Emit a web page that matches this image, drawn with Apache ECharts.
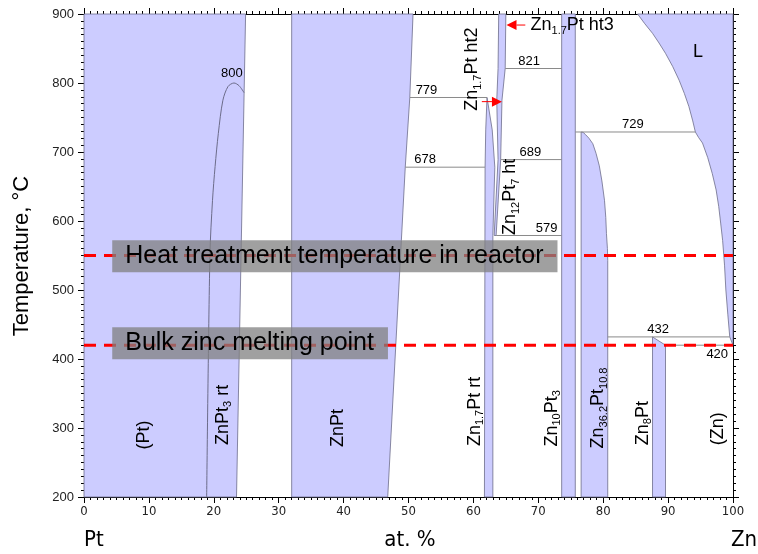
<!DOCTYPE html>
<html><head><meta charset="utf-8">
<script src="https://cdn.jsdelivr.net/npm/echarts@6/dist/echarts.min.js"></script>
<style>html,body{margin:0;padding:0;background:#fff;}#chart{width:758px;height:554px;}</style>
</head><body><div id="chart"></div>
<script>
// ---------------- data ----------------
const xTickValues = [0, 10, 20, 30, 40, 50, 60, 70, 80, 90, 100];
const yTickValues = [200, 300, 400, 500, 600, 700, 800, 900];

// single-phase fields: [at.% Zn, T in °C]
const fieldPt = [[0,200],[23.5,200],[24.2,550],[24.9,900],[0,900]];
const fieldZnPt = [[32,200],[46.8,200],[48.9,572],[49.5,678],[50.2,779],[50.7,900],[32,900]];
const fieldZn17PtLow = [[61.7,200],[63.0,200],[63.0,579],[63.3,678],[62.9,732],[62.1,779],[61.9,732],[61.8,678]];
const fieldZn17PtHigh = [[63.2,579],[63.5,579],[64.2,689],[64.4,775],[64.9,821],[65.0,900],[63.9,900],[63.8,821],[63.6,775],[63.8,689]];
const fieldZn10Pt3 = [[73.6,200],[75.7,200],[75.7,900],[73.6,900]];
const fieldZn36Pt11 = [[76.6,200],[80.7,200],[80.7,543],[80.65,560],[80.5,582],[80.4,605],[80.2,630],[79.8,658],[79.4,680],[78.9,698],[78.4,712],[77.8,720],[77.3,725],[76.9,728.5],[76.6,729]];
const fieldZn8Pt = [[87.6,200],[89.6,200],[89.6,420],[87.6,432]];
const fieldLiquid = [[85.3,900],[86.4,886],[87.6,872],[88.6,858],[89.6,843],[90.7,824],[91.7,804],[92.5,785],[93.2,766],[93.8,745],[94.2,729],[94.7,721],[95.3,713],[96.1,692],[96.8,669],[97.4,645],[97.8,621],[98.1,597],[98.4,572],[98.7,535],[98.9,500],[99.2,465],[99.5,432],[100,420],[100,900]];
const fieldList = [fieldPt, fieldZnPt, fieldZn17PtLow, fieldZn17PtHigh, fieldZn10Pt3, fieldZn36Pt11, fieldZn8Pt, fieldLiquid];

// ZnPt3 ordering dome
const orderingZnPt3 = [[18.9,200],[19.4,550],[19.8,630],[20.2,679],[20.7,727],[21.4,775],[22.2,795],[23.1,800],[23.9,796],[24.66,786]];
const domeLabel = ['800'];
const domeLabelX = [21.1];
const domeLabelT = [800];

// invariant isotherms
const isoT      = [779, 678, 821, 689, 579, 729, 432, 420];
const isoFrom   = [50.2, 49.5, 64.9, 64.2, 63.5, 75.7, 80.7, 89.6];
const isoTo     = [62.1, 61.8, 73.6, 73.6, 73.6, 94.2, 99.5, 100];
const isoLabelX = [51.1, 50.9, 66.9, 67.1, 69.6, 82.9, 86.8, 95.9];
const isoLabelBelow = [false, false, false, false, false, false, false, true];

// phase names (vertical)
const phaseNames = ['(Pt)', 'ZnPt_{3} rt', 'ZnPt', 'Zn_{1.7}Pt rt', 'Zn_{10}Pt_{3}', 'Zn_{36.2}Pt_{10.8}', 'Zn_{8}Pt', '(Zn)', 'Zn_{1.7}Pt ht2', 'Zn_{12}Pt_{7} ht'];
const phaseX = [9.2, 21.4, 39.2, 60.2, 72.1, 79.2, 86.1, 97.7, 59.8, 65.7];
const phaseT = [290, 319, 300, 324, 314, 329, 307, 299, 820, 635];
// phase names (horizontal)
const phaseNamesH = ['L', 'Zn_{1.7}Pt ht3'];
const phaseHX = [94.6, 68.8];
const phaseHT = [845, 884];
const phaseHAlign = ['center', 'left'];

// pointer arrows
const arrowFrom = [[68.0, 884], [61.3, 773]];
const arrowTo   = [[65.1, 884], [64.4, 773]];

// reference temperatures
const refT = [550, 420];
const refText = ['Heat treatment temperature in reactor', 'Bulk zinc melting point'];
const refBoxT = [549, 423];
const refBoxX = [4.35, 4.35];

// ---------------- chart ----------------
const FILL = '#ccccff', EDGE = '#6c6c8a', ISO = '#8a8a8a';
const FONT = "'Liberation Sans', Arial, sans-serif";
const NARROW = "'Liberation Sans Narrow', 'Arial Narrow', 'DejaVu Sans Condensed', sans-serif";

const xMin = xTickValues[0], xMax = xTickValues[xTickValues.length - 1];
const yMin = yTickValues[0], yMax = yTickValues[yTickValues.length - 1];

function richName(s) {
  return s.split(/(_\{[^}]*\})/).filter(Boolean)
    .map(t => t.startsWith('_{') ? '{s|' + t.slice(2, -1) + '}' : '{n|' + t + '}').join('');
}
const RICH = {
  n: { fontSize: 18, fontFamily: FONT, fill: '#000', lineHeight: 22 },
  s: { fontSize: 11, fontFamily: FONT, fill: '#000', lineHeight: 11, padding: [11, 0, 0, 0] }
};

const chart = echarts.init(document.getElementById('chart'), null, { renderer: 'canvas' });

function makeAxis(extra) {
  return Object.assign({
    type: 'value',
    axisLine: { show: true, onZero: false, lineStyle: { color: '#000', width: 1 } },
    axisTick: { show: true, length: 6, lineStyle: { color: '#000' } },
    minorTick: { show: true, splitNumber: 10, length: 3, lineStyle: { color: '#000' } },
    splitLine: { show: false }
  }, extra);
}

// all marks are drawn on a hidden pair of data axes (index 2) sharing the frame's scales
const AX = { xAxisIndex: 2, yAxisIndex: 2 };
const lineList = [orderingZnPt3].concat(isoT.map((t, i) => [[isoFrom[i], t], [isoTo[i], t]]));

const series = [
  Object.assign({ type: 'custom', coordinateSystem: 'cartesian2d', silent: true, z: 1,
    data: fieldList.map((f, i) => [f[0][0], f[0][1], i]),
    renderItem: (params, api) => ({
      type: 'polygon',
      shape: { points: fieldList[params.dataIndex].map(p => api.coord(p)) },
      style: { fill: FILL, stroke: EDGE, lineWidth: 0.8 }
    })
  }, AX),
  Object.assign({ type: 'custom', coordinateSystem: 'cartesian2d', silent: true, z: 2,
    data: lineList.map((l, i) => [l[0][0], l[0][1], i]),
    renderItem: (params, api) => ({
      type: 'polyline',
      shape: { points: lineList[params.dataIndex].map(p => api.coord(p)), smooth: params.dataIndex === 0 ? 0.3 : 0 },
      style: { fill: null, stroke: params.dataIndex === 0 ? EDGE : ISO, lineWidth: 1 }
    })
  }, AX),
  Object.assign({ type: 'custom', coordinateSystem: 'cartesian2d', silent: true, z: 5,
    data: isoT.map((t, i) => [isoLabelX[i], t]),
    renderItem: (params, api) => {
      const c = api.coord([api.value(0), api.value(1)]);
      const below = isoLabelBelow[params.dataIndex];
      return { type: 'text', x: c[0], y: below ? c[1] + 3 : c[1] - 1,
        style: { text: String(isoT[params.dataIndex]), fontSize: 13, fontFamily: FONT, fill: '#000',
                 align: 'left', verticalAlign: below ? 'top' : 'bottom' } };
    }
  }, AX),
  Object.assign({ type: 'custom', coordinateSystem: 'cartesian2d', silent: true, z: 5,
    data: domeLabelT.map((t, i) => [domeLabelX[i], t]),
    renderItem: (params, api) => {
      const c = api.coord([api.value(0), api.value(1)]);
      return { type: 'text', x: c[0], y: c[1] - 3,
        style: { text: domeLabel[params.dataIndex], fontSize: 13, fontFamily: FONT, fill: '#000', align: 'left', verticalAlign: 'bottom' } };
    }
  }, AX),
  Object.assign({ type: 'custom', coordinateSystem: 'cartesian2d', silent: true, z: 5,
    data: phaseNames.map((n, i) => [phaseX[i], phaseT[i]]),
    renderItem: (params, api) => {
      const c = api.coord([api.value(0), api.value(1)]);
      return { type: 'text', x: c[0], y: c[1], rotation: Math.PI / 2,
        style: { text: richName(phaseNames[params.dataIndex]), rich: RICH, align: 'center', verticalAlign: 'middle' } };
    }
  }, AX),
  Object.assign({ type: 'custom', coordinateSystem: 'cartesian2d', silent: true, z: 5,
    data: phaseNamesH.map((n, i) => [phaseHX[i], phaseHT[i]]),
    renderItem: (params, api) => {
      const c = api.coord([api.value(0), api.value(1)]);
      return { type: 'text', x: c[0], y: c[1],
        style: { text: richName(phaseNamesH[params.dataIndex]), rich: RICH, align: phaseHAlign[params.dataIndex], verticalAlign: 'middle' } };
    }
  }, AX),
  Object.assign({ type: 'custom', coordinateSystem: 'cartesian2d', silent: true, z: 6,
    data: arrowFrom.map((a, i) => [a[0], a[1], i]),
    renderItem: (params, api) => {
      const a = api.coord(arrowFrom[params.dataIndex]);
      const b = api.coord(arrowTo[params.dataIndex]);
      const dx = b[0] - a[0], dy = b[1] - a[1];
      const L = Math.sqrt(dx * dx + dy * dy), ux = dx / L, uy = dy / L;
      const hl = 10, hw = 5;
      const base = [b[0] - ux * hl, b[1] - uy * hl];
      return { type: 'group', children: [
        { type: 'line', shape: { x1: a[0], y1: a[1], x2: base[0], y2: base[1] }, style: { stroke: '#ff0000', lineWidth: 1 } },
        { type: 'polygon', shape: { points: [b, [base[0] - uy * hw, base[1] + ux * hw], [base[0] + uy * hw, base[1] - ux * hw]] },
          style: { fill: '#ff0000' } }
      ] };
    }
  }, AX),
  Object.assign({ type: 'custom', coordinateSystem: 'cartesian2d', silent: true, z: 3,
    data: refT.map(t => [xMin, t]),
    renderItem: (params, api) => {
      const a = api.coord([xMin, refT[params.dataIndex]]);
      const b = api.coord([xMax, refT[params.dataIndex]]);
      return { type: 'line', shape: { x1: a[0], y1: a[1], x2: b[0], y2: b[1] },
        style: { stroke: '#ff0000', lineWidth: 3, lineDash: [12, 8] } };
    }
  }, AX),
  Object.assign({ type: 'custom', coordinateSystem: 'cartesian2d', silent: true, z: 4,
    data: refBoxT.map((t, i) => [refBoxX[i], t]),
    renderItem: (params, api) => {
      const c = api.coord([api.value(0), api.value(1)]);
      return { type: 'text', x: c[0], y: c[1],
        style: { text: refText[params.dataIndex], fontSize: 25, fontFamily: FONT, fill: '#000',
                 align: 'left', verticalAlign: 'middle', lineHeight: 26,
                 backgroundColor: 'rgba(128,128,128,0.75)', padding: [3, 14, 3, 13] } };
    }
  }, AX)
];

chart.setOption({
  animation: false,
  grid: { left: 84, right: 25, top: 14, bottom: 57 },
  xAxis: [
    makeAxis({ min: xMin, max: xMax, interval: 10, position: 'bottom',
      axisLabel: { show: true, margin: 8, fontSize: 13, fontFamily: NARROW, color: '#222' } }),
    makeAxis({ min: xMin, max: xMax, interval: 10, position: 'top', axisLabel: { show: false } }),
    { type: 'value', min: xMin, max: xMax, interval: 10, show: false }
  ],
  yAxis: [
    makeAxis({ min: yMin, max: yMax, interval: 100, position: 'left',
      axisLabel: { show: true, margin: 10, fontSize: 13, fontFamily: FONT, color: '#222' } }),
    makeAxis({ min: yMin, max: yMax, interval: 100, position: 'right', axisLabel: { show: false } }),
    { type: 'value', min: yMin, max: yMax, interval: 100, show: false }
  ],
  graphic: [
    { type: 'text', x: 84, y: 540, style: { text: 'Pt', fontSize: 22, fontFamily: NARROW, fill: '#000', align: 'left', verticalAlign: 'middle' } },
    { type: 'text', x: 410, y: 540, style: { text: 'at. %', fontSize: 22, fontFamily: NARROW, fill: '#000', align: 'center', verticalAlign: 'middle' } },
    { type: 'text', x: 757, y: 540, style: { text: 'Zn', fontSize: 22, fontFamily: NARROW, fill: '#000', align: 'right', verticalAlign: 'middle' } },
    { type: 'text', x: 22, y: 256, rotation: Math.PI / 2, style: { text: 'Temperature, °C', fontSize: 22, fontFamily: FONT, fill: '#000', align: 'center', verticalAlign: 'middle' } }
  ],
  series: series
});
</script>
</body></html>
